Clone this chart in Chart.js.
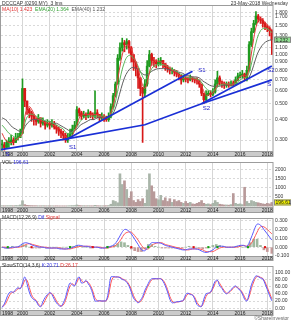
<!DOCTYPE html>
<html><head><meta charset="utf-8">
<script src="https://cdn.jsdelivr.net/npm/chart.js@4.4.1/dist/chart.umd.min.js"></script>
<style>
html,body{margin:0;padding:0;background:#fff;}
body{width:291px;height:320px;position:relative;overflow:hidden;font-family:"Liberation Sans",Arial,sans-serif;}
.pane{position:absolute;left:0;width:291px;}
.lbl{position:absolute;font-size:5px;line-height:6px;white-space:nowrap;color:#333;}
</style></head><body>
<div class="pane" style="top:0;height:157px"><canvas id="cPrice"></canvas></div>
<div class="pane" style="top:157px;height:56px"><canvas id="cVol"></canvas></div>
<div class="pane" style="top:213px;height:48px"><canvas id="cMacd"></canvas></div>
<div class="pane" style="top:261px;height:55px"><canvas id="cSto"></canvas></div>
<div class="lbl" style="left:2px;top:0px">DCCCAP (0290.MY) &nbsp;3 lms</div>
<div class="lbl" style="right:3px;top:0px">23-May-2018 Wednesday</div>
<div class="lbl" style="left:2px;top:6px"><span style="color:#e03030">MA(10) 1.423</span> &nbsp;<span style="color:#30a030">EMA(20) 1.364</span> &nbsp;<span style="color:#555">EMA(40) 1.232</span></div>
<div class="lbl" style="left:2px;top:159px">VOL <span style="color:#3030e0">196.61</span></div>
<div class="lbl" style="left:2px;top:214px">MACD(12,26,9) <span style="color:#3030e0">Dif</span> <span style="color:#e03030">Signal</span></div>
<div class="lbl" style="left:2px;top:262px">SlowSTO(14,3,6) <span style="color:#3030e0">K:20.71</span> <span style="color:#e03030">D:26.17</span></div>
<div class="lbl" style="right:2px;top:315px;color:#666">&copy;ShareInvestor</div>
<script>
// ---------- DATA ----------
const PRICE_DATES = ['1998-07','1998-09','1998-11',
'1999-01','1999-03','1999-05','1999-07','1999-09','1999-11',
'2000-01','2000-03','2000-05','2000-07','2000-09','2000-11',
'2001-01','2001-03','2001-05','2001-07','2001-09','2001-11',
'2002-01','2002-03','2002-05','2002-07','2002-09','2002-11',
'2003-01','2003-03','2003-05','2003-07','2003-09','2003-11',
'2004-01','2004-03','2004-05','2004-07','2004-09','2004-11',
'2005-01','2005-03','2005-05','2005-07','2005-09','2005-11',
'2006-01','2006-03','2006-05','2006-07','2006-09','2006-11',
'2007-01','2007-03','2007-05','2007-07','2007-09','2007-11',
'2008-01','2008-03','2008-05','2008-07','2008-09','2008-11',
'2009-01','2009-03','2009-05','2009-07','2009-09','2009-11',
'2010-01','2010-03','2010-05','2010-07','2010-09','2010-11',
'2011-01','2011-03','2011-05','2011-07','2011-09','2011-11',
'2012-01','2012-03','2012-05','2012-07','2012-09','2012-11',
'2013-01','2013-03','2013-05','2013-07','2013-09','2013-11',
'2014-01','2014-03','2014-05','2014-07','2014-09','2014-11',
'2015-01','2015-03','2015-05','2015-07','2015-09','2015-11',
'2016-01','2016-03','2016-05','2016-07','2016-09','2016-11',
'2017-01','2017-03','2017-05','2017-07','2017-09','2017-11',
'2018-01','2018-03','2018-05'];

const CLOSE = [0.28,0.27,0.29,
0.29,0.30,0.29,0.31,0.31,0.33,
0.62,0.52,0.46,0.44,0.42,0.40,
0.39,0.41,0.38,0.39,0.37,0.38,
0.37,0.38,0.36,0.35,0.34,0.33,
0.32,0.30,0.31,0.33,0.35,0.37,
0.46,0.44,0.42,0.43,0.42,0.44,
0.43,0.42,0.44,0.43,0.41,0.42,
0.41,0.40,0.42,0.48,0.56,0.66,
0.95,1.10,1.18,1.15,1.20,1.10,
1.00,0.90,0.82,0.72,0.62,0.58,
0.66,0.85,1.00,0.92,0.90,0.88,
0.90,0.92,0.88,0.84,0.82,0.80,
0.80,0.78,0.76,0.74,0.70,0.72,
0.71,0.70,0.72,0.71,0.70,0.69,
0.66,0.58,0.53,0.57,0.58,0.57,
0.59,0.66,0.72,0.68,0.66,0.65,
0.66,0.65,0.67,0.66,0.70,0.74,
0.75,0.76,0.72,0.80,1.15,1.38,
1.55,1.72,1.65,1.62,1.55,1.48,
1.45,1.40,1.23];

const HIGH = [0.30,0.29,0.30,
0.31,0.32,0.31,0.33,0.33,0.35,
0.71,0.62,0.52,0.47,0.45,0.43,
0.41,0.43,0.41,0.41,0.39,0.40,
0.39,0.40,0.39,0.37,0.36,0.35,
0.34,0.33,0.33,0.35,0.37,0.39,
0.48,0.47,0.45,0.45,0.44,0.46,
0.45,0.44,0.60,0.46,0.43,0.44,
0.43,0.42,0.44,0.50,0.58,0.68,
1.00,1.18,1.26,1.22,1.25,1.22,
1.12,0.98,0.90,0.82,0.72,0.63,
0.70,0.92,1.06,1.02,0.96,0.93,
0.95,0.96,0.92,0.88,0.86,0.84,
0.83,0.81,0.80,0.77,0.75,0.75,
0.74,0.73,0.75,0.73,0.72,0.72,
0.70,0.66,0.58,0.60,0.60,0.60,
0.62,0.70,0.79,0.74,0.69,0.68,
0.68,0.68,0.69,0.69,0.73,0.77,
0.78,0.80,0.77,0.85,1.20,1.45,
1.62,1.83,1.76,1.70,1.66,1.58,
1.52,1.48,1.42];

const LOW = [0.26,0.26,0.27,
0.27,0.28,0.28,0.29,0.30,0.31,
0.33,0.48,0.43,0.41,0.39,0.37,
0.37,0.38,0.36,0.37,0.35,0.36,
0.35,0.36,0.35,0.33,0.32,0.31,
0.30,0.29,0.29,0.31,0.32,0.35,
0.37,0.42,0.40,0.41,0.40,0.41,
0.41,0.40,0.41,0.41,0.39,0.40,
0.39,0.39,0.39,0.41,0.47,0.55,
0.66,0.92,1.05,1.04,1.08,1.02,
0.90,0.80,0.74,0.62,0.56,0.29,
0.55,0.64,0.84,0.86,0.84,0.83,
0.85,0.86,0.83,0.80,0.78,0.76,
0.76,0.74,0.73,0.70,0.66,0.68,
0.68,0.67,0.69,0.68,0.67,0.66,
0.63,0.56,0.50,0.52,0.56,0.55,
0.56,0.58,0.64,0.65,0.63,0.62,
0.63,0.63,0.64,0.64,0.65,0.69,
0.72,0.72,0.69,0.69,0.80,1.12,
1.36,1.52,1.58,1.55,1.47,1.42,
1.38,1.30,1.00];

const VOLUME = [20,15,20,
20,25,15,30,25,60,
290,80,40,30,25,20,
20,15,15,20,15,15,
15,15,10,15,10,10,
10,10,15,20,25,30,
60,30,20,20,15,20,
15,15,40,20,15,15,
15,20,30,100,300,250,
180,1750,1170,1370,900,430,
780,300,200,350,250,400,
150,880,1750,1100,780,400,
340,580,300,450,250,400,
200,350,250,300,200,150,
250,150,200,120,100,150,
200,300,150,100,120,80,
150,300,200,100,80,60,
60,50,80,680,150,100,
120,80,1020,250,150,300,
250,200,180,150,120,100,
150,120,196.61];

const STO_K = [2,12,28,
42,46,44,52,57,54,
70,87,68,45,30,24,
20,8,4,18,30,38,
44,38,25,15,8,5,
15,30,55,70,65,62,
80,87,70,72,77,68,
58,40,20,20,21,20,
20,22,50,87,88,87,
87,85,80,78,72,62,
45,28,20,15,22,32,
50,62,75,82,82,82,
82,82,75,62,45,25,
15,16,18,18,20,22,
38,42,38,37,25,10,
5,5,25,40,42,45,
60,75,78,62,55,45,
40,45,52,58,62,55,
50,40,25,20,40,65,
80,90,88,84,82,68,
52,35,20.71];

const STO_D = [5,8,18,
32,42,45,48,54,56,
62,78,78,58,38,27,
22,12,6,10,22,34,
41,41,32,20,11,6,
9,22,43,62,68,64,
72,84,78,71,75,72,
63,48,28,21,20,20,
20,21,36,70,86,87,
87,86,82,79,75,66,
52,35,23,17,18,27,
42,57,69,79,82,82,
82,82,78,68,52,33,
20,15,17,18,19,21,
31,40,40,37,30,16,
8,5,16,33,41,44,
54,69,77,69,58,49,
42,43,49,55,60,57,
52,44,31,22,32,55,
73,86,89,86,83,73,
58,42,26.17];

const Q_DATES = ['1998-07','1998-10',
'1999-01','1999-04','1999-07','1999-10',
'2000-01','2000-04','2000-07','2000-10',
'2001-01','2001-04','2001-07','2001-10',
'2002-01','2002-04','2002-07','2002-10',
'2003-01','2003-04','2003-07','2003-10',
'2004-01','2004-04','2004-07','2004-10',
'2005-01','2005-04','2005-07','2005-10',
'2006-01','2006-04','2006-07','2006-10',
'2007-01','2007-04','2007-07','2007-10',
'2008-01','2008-04','2008-07','2008-10',
'2009-01','2009-04','2009-07','2009-10',
'2010-01','2010-04','2010-07','2010-10',
'2011-01','2011-04','2011-07','2011-10',
'2012-01','2012-04','2012-07','2012-10',
'2013-01','2013-04','2013-07','2013-10',
'2014-01','2014-04','2014-07','2014-10',
'2015-01','2015-04','2015-07','2015-10',
'2016-01','2016-04','2016-07','2016-10',
'2017-01','2017-04','2017-07','2017-10',
'2018-01','2018-05'];

const MA10 = [0.33,0.30,
0.29,0.29,0.30,0.31,
0.33,0.45,0.48,0.45,
0.41,0.40,0.39,0.38,
0.38,0.37,0.36,0.35,
0.33,0.31,0.31,0.33,
0.37,0.42,0.43,0.43,
0.43,0.43,0.43,0.42,
0.41,0.41,0.44,0.52,
0.70,0.92,1.10,1.15,
1.08,0.95,0.82,0.68,
0.62,0.72,0.88,0.92,
0.91,0.90,0.87,0.83,
0.80,0.78,0.75,0.72,
0.71,0.71,0.71,0.70,
0.68,0.62,0.56,0.57,
0.58,0.63,0.68,0.67,
0.66,0.65,0.66,0.69,
0.73,0.75,0.74,0.92,
1.25,1.55,1.66,1.60,
1.52,1.42];

const EMA20 = [0.37,0.35,
0.33,0.32,0.31,0.31,
0.33,0.40,0.43,0.43,
0.42,0.41,0.40,0.39,
0.39,0.38,0.37,0.36,
0.35,0.33,0.33,0.34,
0.36,0.39,0.41,0.42,
0.42,0.42,0.42,0.42,
0.42,0.41,0.43,0.48,
0.60,0.76,0.90,0.98,
0.98,0.93,0.85,0.76,
0.70,0.74,0.82,0.86,
0.87,0.87,0.86,0.84,
0.81,0.80,0.77,0.75,
0.73,0.72,0.72,0.71,
0.70,0.66,0.62,0.60,
0.60,0.62,0.65,0.66,
0.66,0.66,0.66,0.67,
0.70,0.72,0.73,0.82,
1.02,1.25,1.40,1.45,
1.44,1.364];

const EMA40 = [0.41,0.40,
0.38,0.36,0.35,0.34,
0.34,0.37,0.39,0.40,
0.40,0.40,0.40,0.39,
0.39,0.38,0.38,0.37,
0.36,0.35,0.34,0.34,
0.35,0.37,0.38,0.39,
0.40,0.40,0.41,0.41,
0.41,0.41,0.42,0.45,
0.52,0.62,0.72,0.79,
0.83,0.83,0.81,0.77,
0.75,0.76,0.79,0.81,
0.82,0.82,0.82,0.81,
0.80,0.79,0.78,0.77,
0.75,0.74,0.73,0.73,
0.72,0.69,0.67,0.65,
0.64,0.64,0.64,0.65,
0.65,0.65,0.65,0.66,
0.68,0.69,0.70,0.75,
0.86,1.00,1.10,1.17,
1.21,1.232];

const MACD_DIF = [0.00,-0.01,
-0.01,0.00,0.00,0.01,
0.04,0.05,0.04,0.02,
0.01,0.00,0.00,-0.01,
-0.01,-0.01,-0.01,-0.02,
-0.02,-0.02,-0.01,0.00,
0.02,0.02,0.01,0.01,
0.00,0.00,0.00,-0.01,
-0.01,0.00,0.01,0.03,
0.08,0.15,0.20,0.19,
0.15,0.09,0.03,-0.03,
-0.04,0.01,0.05,0.05,
0.05,0.04,0.02,0.01,
0.00,-0.01,-0.02,-0.03,
-0.03,-0.02,-0.02,-0.02,
-0.03,-0.05,-0.06,-0.05,
-0.03,0.00,0.01,0.01,
0.00,0.00,0.00,0.01,
0.02,0.02,0.01,0.08,
0.18,0.26,0.25,0.20,
0.15,0.08];

const MACD_SIG = [0.00,0.00,
-0.01,-0.01,0.00,0.00,
0.01,0.03,0.04,0.03,
0.02,0.01,0.00,0.00,
-0.01,-0.01,-0.01,-0.01,
-0.02,-0.02,-0.02,-0.01,
0.00,0.01,0.01,0.01,
0.01,0.00,0.00,0.00,
-0.01,-0.01,0.00,0.01,
0.04,0.09,0.15,0.17,
0.17,0.13,0.08,0.02,
-0.02,-0.02,0.02,0.04,
0.05,0.05,0.03,0.02,
0.01,0.00,-0.01,-0.02,
-0.03,-0.03,-0.02,-0.02,
-0.02,-0.03,-0.05,-0.05,
-0.05,-0.03,-0.01,0.00,
0.00,0.00,0.00,0.00,
0.01,0.02,0.01,0.03,
0.09,0.17,0.23,0.23,
0.20,0.15];

const MACD_HIST = [0.00,-0.01,
0.00,0.01,0.00,0.01,
0.03,0.02,0.00,-0.01,
-0.01,-0.01,0.00,-0.01,
0.00,0.00,0.00,-0.01,
0.00,0.00,0.01,0.01,
0.02,0.01,0.00,0.00,
-0.01,0.00,0.00,-0.01,
0.00,0.01,0.01,0.02,
0.04,0.06,0.05,0.02,
-0.02,-0.04,-0.05,-0.05,
-0.02,0.03,0.03,0.01,
0.00,-0.01,-0.01,-0.01,
-0.01,-0.01,-0.01,-0.01,
0.00,0.01,0.00,0.00,
-0.01,-0.02,-0.01,0.00,
0.02,0.03,0.02,0.01,
0.00,0.00,0.00,0.01,
0.01,0.00,0.00,0.05,
0.09,0.09,0.02,-0.03,
-0.05,-0.07];

const BUY_DATES = ['1998-12','2003-07','2006-04','2009-04','2013-09','2014-05','2016-08'];
const SELL_DATES = ['2000-09','2005-03','2008-01','2012-08','2017-11'];

// trend lines (date, price)
const TREND_S  = [['1998-06',0.262],['2003-04',0.305],['2009-01',0.372],['2013-03',0.50],['2018-05',0.70]];
const TREND_S1 = [['2003-03',0.300],['2012-07',0.79]];
const TREND_S2 = [['2013-03',0.500],['2018-05',0.85]];
const TREND_LABELS = [['S','1998-10',0.245],['S1','2003-06',0.272],['S1','2012-12',0.80],['S2','2013-04',0.47],['S2','2018-01',0.80],['S','2018-01',0.655]];

const PRICE_TICKS = [0.3,0.4,0.5,0.6,0.7,0.8,0.9,1.0,1.1,1.3,1.5,1.7,1.8];
const VOL_TICKS = [500,1000,1500,2000];
const MACD_TICKS = [-0.1,0,0.1,0.2,0.3];
const STO_TICKS = [0,20,40,60,80,100];
const GRID_YEARS = [2000,2002,2004,2006,2008,2010,2012,2014,2016,2018];
const YEAR_LABELS = ['1998','2000','2002','2004','2006','2008','2010','2012','2014','2016','2018'];
const LAST_PRICE_LABEL = ['1.232', 1.232];
const LAST_VOL_LABEL = ['196.61', 196.61];

// ---------- HELPERS ----------
const toT = s => { const p = s.split('-').map(Number); return p[0] + (p[1]-1)/12; };
const PT = PRICE_DATES.map(toT);
const QT = Q_DATES.map(toT);
const XMIN = 1998.42, XMAX = 2018.42;
const FONT = '"Liberation Sans", Arial, sans-serif';
Chart.defaults.font.family = FONT;
Chart.defaults.font.size = 5;
Chart.defaults.color = '#333';
Chart.defaults.animation = false;

const OPEN = CLOSE.map((c,i) => i ? CLOSE[i-1] : c);
const candleColor = CLOSE.map((c,i) => c >= OPEN[i] ? '#1f9a1f' : '#d81818');

const framePlugin = {
  id: 'frame',
  afterDraw(chart, args, o) {
    const {ctx, chartArea: a} = chart;
    const xs = chart.scales.x, ys = chart.scales.y;
    ctx.save();
    const h = chart.height - a.bottom;
    ctx.fillStyle = '#cbcbcb';
    ctx.fillRect(0, a.bottom, a.right, h);
    ctx.strokeStyle = '#9c9c9c'; ctx.lineWidth = 1;
    ctx.strokeRect(0.5, a.top + 0.5, a.right - 0.5, chart.height - a.top - 1);
    ctx.beginPath(); ctx.moveTo(0, a.bottom + 0.5); ctx.lineTo(a.right, a.bottom + 0.5); ctx.stroke();
    ctx.fillStyle = '#222'; ctx.font = '5px ' + FONT; ctx.textBaseline = 'middle';
    YEAR_LABELS.forEach(lab => {
      const yr = Number(lab);
      let px = xs.getPixelForValue(yr); ctx.textAlign = 'center';
      if (yr < xs.min) { px = a.left + 1; ctx.textAlign = 'left'; }
      ctx.fillText(lab, px, a.bottom + h / 2 + 0.5);
    });
    if (o.highlight) {
      const [txt, v, bg] = o.highlight;
      const py = ys.getPixelForValue(v);
      ctx.fillStyle = bg; ctx.fillRect(a.right + 1, py - 3, 17, 6);
      ctx.strokeStyle = '#888'; ctx.strokeRect(a.right + 1.5, py - 2.5, 16, 5);
      ctx.fillStyle = '#222'; ctx.textAlign = 'left'; ctx.fillText(txt, a.right + 2.5, py + 0.5);
    }
    if (o.labels) {
      ctx.fillStyle = '#2020c8'; ctx.font = '6px ' + FONT; ctx.textAlign = 'left';
      o.labels.forEach(([txt, d, v]) => ctx.fillText(txt, xs.getPixelForValue(toT(d)), ys.getPixelForValue(v)));
    }
    ctx.restore();
  }
};

function xScale(h) {
  return {
    type: 'linear', min: XMIN, max: XMAX, offset: false,
    afterBuildTicks: s => { s.ticks = GRID_YEARS.map(v => ({value: v})); },
    afterFit: s => { s.height = h; },
    ticks: {display: false},
    grid: {color: '#d6d6d6', drawTicks: false, offset: false},
    border: {display: false}
  };
}
function yScale(extra, ticks, fmt) {
  return Object.assign({
    position: 'right',
    afterBuildTicks: s => { s.ticks = ticks.map(v => ({value: v})); },
    afterFit: s => { s.width = 18; },
    ticks: {autoSkip: false, padding: 2, font: {size: 5}, color: '#333', callback: fmt},
    grid: {color: '#d9d9d9', drawTicks: false},
    border: {display: false, dash: [2, 2]}
  }, extra);
}
const baseOpts = (pad) => ({
  responsive: true, maintainAspectRatio: false, animation: false,
  layout: {padding: pad, autoPadding: false},
  plugins: {legend: {display: false}, tooltip: {enabled: false}}
});
const line = (xs, ys, color, w, order) => ({
  type: 'line', data: xs.map((x, i) => ({x, y: ys[i]})), borderColor: color, borderWidth: w,
  pointRadius: 0, tension: 0.35, fill: false, order
});
const trend = (pts) => ({
  type: 'line', data: pts.map(([d, v]) => ({x: toT(d), y: v})), borderColor: '#1a2fd6',
  borderWidth: 1.7, pointRadius: 0, tension: 0, fill: false, order: 0
});

// ---------- PRICE ----------
const pOpts = baseOpts({left: 1, top: 3, right: 0, bottom: 0});
pOpts.scales = {
  x: xScale(6),
  y: yScale({type: 'logarithmic', min: 0.257, max: 2.01}, PRICE_TICKS, v => Number(v).toFixed(3))
};
pOpts.plugins.frame = {highlight: [LAST_PRICE_LABEL[0], LAST_PRICE_LABEL[1], '#8fe08f'], labels: TREND_LABELS};
new Chart(document.getElementById('cPrice'), {
  type: 'bar',
  data: {datasets: [
    trend(TREND_S), trend(TREND_S1), trend(TREND_S2),
    line(QT, MA10, '#e23b3b', 1, 1),
    line(QT, EMA20, '#5cb85c', 1, 1),
    line(QT, EMA40, '#5f5f5f', 1, 1),
    {type: 'bar', data: PT.map((x, i) => ({x, y: [OPEN[i], CLOSE[i]]})), backgroundColor: candleColor,
     barThickness: 2, minBarLength: 1, grouped: false, order: 2},
    {type: 'bar', data: PT.map((x, i) => ({x, y: [LOW[i], HIGH[i]]})), backgroundColor: candleColor,
     barThickness: 1, grouped: false, order: 3}
  ]},
  options: pOpts, plugins: [framePlugin]
});

// ---------- VOLUME ----------
const vOpts = baseOpts({left: 1, top: 0, right: 0, bottom: 0});
vOpts.scales = {
  x: xScale(6),
  y: yScale({min: -50, max: 2390}, VOL_TICKS, v => String(v))
};
vOpts.plugins.frame = {highlight: [LAST_VOL_LABEL[0], LAST_VOL_LABEL[1], '#f2f200']};
new Chart(document.getElementById('cVol'), {
  type: 'bar',
  data: {datasets: [{data: PT.map((x, i) => ({x, y: VOLUME[i]})),
    backgroundColor: candleColor.map(c => c === '#1f9a1f' ? '#a9b5a9' : '#b89a9a'), barThickness: 2}]},
  options: vOpts, plugins: [framePlugin]
});

// ---------- MACD ----------
const mOpts = baseOpts({left: 1, top: 0, right: 0, bottom: 0});
mOpts.scales = {
  x: xScale(5),
  y: yScale({min: -0.1, max: 0.33}, MACD_TICKS, v => Number(v).toFixed(3))
};
mOpts.plugins.frame = {};
new Chart(document.getElementById('cMacd'), {
  type: 'bar',
  data: {datasets: [
    {type: 'line', showLine: false, data: BUY_DATES.map(d => ({x: toT(d), y: 0})), pointStyle: 'rect',
     pointRadius: 1.5, backgroundColor: '#10a010', borderColor: '#10a010', borderWidth: 0, order: 0},
    {type: 'line', showLine: false, data: SELL_DATES.map(d => ({x: toT(d), y: 0})), pointStyle: 'rect',
     pointRadius: 1.5, backgroundColor: '#e01010', borderColor: '#e01010', borderWidth: 0, order: 0},
    line(QT, MACD_DIF, '#5a5aff', 1, 1),
    line(QT, MACD_SIG, '#ff5a5a', 1, 1),
    {type: 'bar', data: QT.map((x, i) => ({x, y: MACD_HIST[i]})),
     backgroundColor: MACD_HIST.map(v => v >= 0 ? '#9fb89f' : '#c79a9a'), barThickness: 2, order: 2}
  ]},
  options: mOpts, plugins: [framePlugin]
});

// ---------- STOCHASTIC ----------
const sOpts = baseOpts({left: 1, top: 0, right: 0, bottom: 0});
sOpts.scales = {
  x: xScale(6),
  y: yScale({min: -5, max: 117.5}, STO_TICKS, v => Number(v).toFixed(2))
};
sOpts.plugins.frame = {};
new Chart(document.getElementById('cSto'), {
  type: 'line',
  data: {datasets: [
    line(PT, STO_K, '#5a5aff', 1, 0),
    line(PT, STO_D, '#ff5a5a', 1, 1)
  ]},
  options: sOpts, plugins: [framePlugin]
});
</script>
</body></html>
